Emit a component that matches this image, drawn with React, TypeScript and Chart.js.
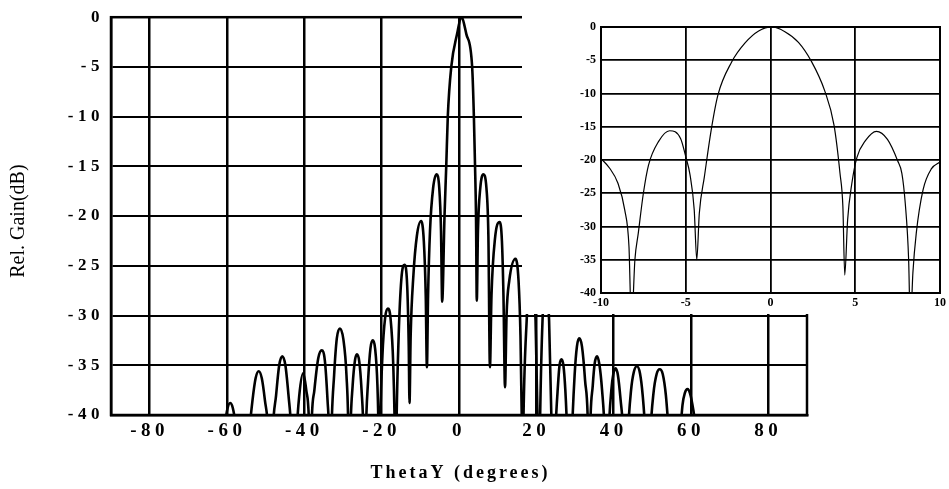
import React, { useEffect, useRef } from "react";
import { Chart, registerables } from "chart.js";

Chart.register(...registerables);

// ---------- data ----------
const mainXTicks = [-80, -60, -40, -20, 0, 20, 40, 60, 80];
const mainYTicks = [0, -5, -10, -15, -20, -25, -30, -35, -40];
const insetXTicks = [-10, -5, 0, 5, 10];
const insetYTicks = [0, -5, -10, -15, -20, -25, -30, -35, -40];

const xTitle = "ThetaY (degrees)";
const yTitle = "Rel. Gain(dB)";

// [theta (deg), relative gain (dB)]
const mainPattern: [number, number][] = [
  [-64, -50],
  [-60.6, -41], [-59.9, -39.4], [-59.2, -38.8], [-58.5, -39.3], [-57.6, -41.5],
  [-55.8, -50],
  [-54.3, -42], [-53.4, -38.5], [-52.6, -36.3], [-51.8, -35.6], [-51.0, -36.3], [-50.2, -38.5], [-49.3, -42],
  [-48.7, -50],
  [-48.2, -42], [-47.3, -38], [-46.5, -35], [-45.7, -34.1], [-44.9, -35], [-44.1, -38], [-43.3, -42],
  [-42.6, -50],
  [-42.0, -42], [-41.3, -38], [-40.3, -35.8], [-39.5, -37.5], [-38.7, -42],
  [-38.45, -50],
  [-38.2, -42], [-37.4, -37.5], [-36.4, -34.3], [-35.5, -33.5], [-34.7, -34.5], [-34.0, -38.5], [-33.6, -42],
  [-33.3, -50],
  [-33.0, -42], [-32.3, -36], [-31.6, -32.3], [-30.8, -31.3], [-29.9, -32.4], [-29.1, -36], [-28.6, -42],
  [-28.4, -50],
  [-28.1, -42], [-27.5, -37], [-26.9, -34.5], [-26.4, -33.9], [-25.8, -34.6], [-25.2, -37.5], [-24.7, -42],
  [-24.4, -50],
  [-24.1, -42], [-23.5, -36.5], [-22.9, -33.3], [-22.3, -32.5], [-21.7, -33.3], [-21.1, -37], [-20.8, -42],
  [-20.6, -50],
  [-20.4, -42], [-19.8, -34], [-19.1, -30.2], [-18.4, -29.3], [-17.7, -30.3], [-17.0, -35], [-16.6, -42],
  [-16.4, -50],
  [-16.2, -42], [-15.6, -32], [-14.9, -26.3], [-14.1, -24.9], [-13.4, -27], [-13.0, -33], [-12.8, -38.8],
  [-12.5, -32], [-11.8, -26], [-10.9, -22], [-9.8, -20.5], [-9.1, -22.5], [-8.6, -28], [-8.3, -35.2],
  [-8.0, -28], [-7.5, -21.5], [-6.7, -17.2], [-5.8, -15.8], [-5.1, -17.2], [-4.65, -21.5],
  [-4.35, -28.6], [-3.75, -20], [-3.3, -15], [-2.9, -10], [-2.0, -5], [-0.5, -1.7], [0.6, 0],
  [1.9, -1.7], [3.4, -5], [3.85, -10], [4.15, -15], [4.4, -20], [4.6, -28.5],
  [4.9, -21.5], [5.5, -17.2], [6.3, -15.8], [7.1, -17.2], [7.6, -22], [8.0, -35.2],
  [8.4, -28], [9.3, -22.3], [10.5, -20.6], [11.1, -22.5], [11.5, -28], [11.9, -37.2],
  [12.3, -30], [13.0, -26.5], [14.6, -24.3], [15.4, -26.5], [15.9, -32], [16.3, -42],
  [16.45, -48],
  [16.6, -42], [17.5, -30.5], [18.5, -26], [19.8, -30.5], [20.4, -42],
  [20.65, -50],
  [20.9, -42], [21.6, -30.5], [22.4, -27], [23.3, -30.5], [24.0, -42],
  [24.3, -50],
  [24.9, -42], [25.6, -37], [26.0, -35], [26.5, -34.4], [27.0, -35], [27.5, -37.5], [28.0, -42],
  [28.6, -50],
  [29.2, -42], [29.9, -36], [30.5, -33.1], [31.1, -32.3], [31.8, -33.1], [32.6, -36.5], [33.4, -42],
  [33.65, -50],
  [33.9, -42], [34.6, -37], [35.1, -34.8], [35.7, -34.1], [36.3, -34.9], [37.0, -37.5], [37.7, -42],
  [38.2, -50],
  [38.7, -42], [39.4, -37.5], [39.9, -35.9], [40.5, -35.3], [41.1, -36], [41.8, -38.5], [42.5, -42],
  [43.1, -50],
  [43.7, -42], [44.5, -37.5], [45.2, -35.7], [46.0, -35.1], [46.8, -35.8], [47.5, -38], [48.2, -42],
  [48.9, -50],
  [49.5, -42], [50.3, -37.8], [51.1, -35.9], [51.9, -35.4], [52.7, -35.9], [53.5, -38], [54.3, -42],
  [55.8, -50],
  [57.2, -42], [57.8, -39], [58.4, -37.8], [59.1, -37.4], [59.8, -37.9], [60.6, -39.5], [61.5, -42],
  [64, -50],
];

// [theta (deg), relative gain (dB)]
const insetPattern: [number, number][] = [
  [-10, -19.8], [-9.5, -21.2], [-9.0, -23.5], [-8.6, -27.5], [-8.35, -33], [-8.2, -45],
  [-8.0, -35], [-7.8, -31], [-7.5, -25], [-7.2, -20.8], [-6.6, -17.2], [-5.95, -15.6],
  [-5.3, -16.8], [-5.0, -19.5], [-4.75, -22.2], [-4.5, -27.5], [-4.35, -35],
  [-4.2, -28], [-3.9, -22.5], [-3.5, -15.5], [-3.1, -10.2], [-2.3, -5.3], [-1.5, -2.4],
  [-0.7, -0.6], [0.1, 0], [0.85, -0.7], [1.65, -2.3], [2.4, -5.1], [3.2, -9.6],
  [3.75, -14.8], [4.1, -22], [4.27, -27], [4.38, -37.3],
  [4.55, -29], [4.8, -23.5], [5.1, -19.6], [5.6, -17.1], [6.25, -15.7], [6.9, -16.9],
  [7.5, -20.1], [7.75, -22], [7.95, -26.5], [8.15, -35], [8.25, -45],
  [8.4, -37], [8.6, -31], [9.0, -24.5], [9.5, -21.3], [10.0, -20.3],
];

// ---------- styling ----------
const SERIF = '"Liberation Serif", "Times New Roman", serif';

const fixedTicks = (values: number[]) => (scale: any) => {
  scale.ticks = values.map((v) => ({ value: v }));
};

const framePlugin = (width: number) => ({
  id: "frame",
  beforeDatasetsDraw(chart: any) {
    const { ctx, chartArea } = chart;
    ctx.save();
    ctx.strokeStyle = "#000";
    ctx.lineWidth = width;
    ctx.strokeRect(
      chartArea.left,
      chartArea.top,
      chartArea.right - chartArea.left,
      chartArea.bottom - chartArea.top
    );
    ctx.restore();
  },
});

const spacingPlugin = {
  id: "spacing",
  beforeDraw(chart: any) {
    chart.ctx.letterSpacing = "4.5px";
  },
};

const titlesPlugin = {
  id: "titles",
  afterDraw(chart: any) {
    const { ctx, chartArea } = chart;
    ctx.save();
    ctx.fillStyle = "#000";
    ctx.textAlign = "center";
    ctx.textBaseline = "middle";
    ctx.letterSpacing = "3px";
    ctx.font = `bold 18px ${SERIF}`;
    ctx.fillText(xTitle, (chartArea.left + chartArea.right) / 2 + 1.5, chart.height - 16);
    ctx.letterSpacing = "0px";
    ctx.font = `20px ${SERIF}`;
    ctx.translate(19, (chartArea.top + chartArea.bottom) / 2 + 5);
    ctx.rotate(-Math.PI / 2);
    ctx.fillText(yTitle, 0, 0);
    ctx.restore();
  },
};

export default function App() {
  const mainRef = useRef<HTMLCanvasElement | null>(null);
  const insetRef = useRef<HTMLCanvasElement | null>(null);

  useEffect(() => {
    if (!mainRef.current || !insetRef.current) return;

    const main = new Chart(mainRef.current, {
      type: "line",
      data: {
        datasets: [
          {
            data: mainPattern.map(([x, y]) => ({ x, y })),
            borderColor: "#000",
            borderWidth: 2.6,
            pointRadius: 0,
            fill: false,
            cubicInterpolationMode: "monotone",
          },
        ],
      },
      options: {
        animation: false,
        responsive: false,
        maintainAspectRatio: false,
        devicePixelRatio: 1,
        layout: { padding: { left: 0, right: 142, top: 16, bottom: 0 } },
        plugins: {
          legend: { display: false },
          tooltip: { enabled: false },
        },
        scales: {
          x: {
            type: "linear",
            min: -90,
            max: 90,
            afterBuildTicks: fixedTicks(mainXTicks),
            afterFit: (s: any) => {
              s.height = 74;
            },
            grid: { color: "#000", lineWidth: 2.5, drawTicks: false },
            border: { display: true, color: "#000", width: 2.5 },
            ticks: {
              color: "#000",
              font: { family: SERIF, size: 19, weight: "bold" },
              padding: 5,
              maxRotation: 0,
              autoSkip: false,
            },
          },
          y: {
            type: "linear",
            min: -40,
            max: 0,
            afterBuildTicks: fixedTicks(mainYTicks),
            afterFit: (s: any) => {
              s.width = 111;
            },
            grid: { color: "#000", lineWidth: 2, drawTicks: false },
            border: { display: true, color: "#000", width: 2.5 },
            ticks: {
              color: "#000",
              font: { family: SERIF, size: 17, weight: "bold" },
              padding: 7,
              autoSkip: false,
            },
          },
        },
      } as any,
      plugins: [spacingPlugin, framePlugin(2.5), titlesPlugin],
    });

    const inset = new Chart(insetRef.current, {
      type: "line",
      data: {
        datasets: [
          {
            data: insetPattern.map(([x, y]) => ({ x, y })),
            borderColor: "#000",
            borderWidth: 1.2,
            pointRadius: 0,
            fill: false,
            cubicInterpolationMode: "monotone",
          },
        ],
      },
      options: {
        animation: false,
        responsive: false,
        maintainAspectRatio: false,
        devicePixelRatio: 1,
        layout: { padding: { left: 0, right: 8, top: 27, bottom: 0 } },
        plugins: {
          legend: { display: false },
          tooltip: { enabled: false },
        },
        scales: {
          x: {
            type: "linear",
            min: -10,
            max: 10,
            afterBuildTicks: fixedTicks(insetXTicks),
            afterFit: (s: any) => {
              s.height = 21;
            },
            grid: { color: "#000", lineWidth: 1.8, drawTicks: false },
            border: { display: true, color: "#000", width: 2 },
            ticks: {
              color: "#000",
              font: { family: SERIF, size: 12, weight: "bold" },
              padding: 3,
              maxRotation: 0,
              autoSkip: false,
            },
          },
          y: {
            type: "linear",
            min: -40,
            max: 0,
            afterBuildTicks: fixedTicks(insetYTicks),
            afterFit: (s: any) => {
              s.width = 79;
            },
            grid: { color: "#000", lineWidth: 1.8, drawTicks: false },
            border: { display: true, color: "#000", width: 2 },
            ticks: {
              color: "#000",
              font: { family: SERIF, size: 12, weight: "bold" },
              padding: 5,
              autoSkip: false,
            },
          },
        },
      } as any,
      plugins: [framePlugin(2)],
    });

    return () => {
      main.destroy();
      inset.destroy();
    };
  }, []);

  return (
    <div
      style={{
        position: "fixed",
        left: 0,
        top: 0,
        width: 949,
        height: 489,
        background: "#fff",
        overflow: "hidden",
      }}
    >
      <canvas
        ref={mainRef}
        width={949}
        height={489}
        style={{ position: "absolute", left: 0, top: 0, width: 949, height: 489 }}
      />
      <canvas
        ref={insetRef}
        width={427}
        height={314}
        style={{
          position: "absolute",
          left: 522,
          top: 0,
          width: 427,
          height: 314,
          background: "#fff",
        }}
      />
    </div>
  );
}
